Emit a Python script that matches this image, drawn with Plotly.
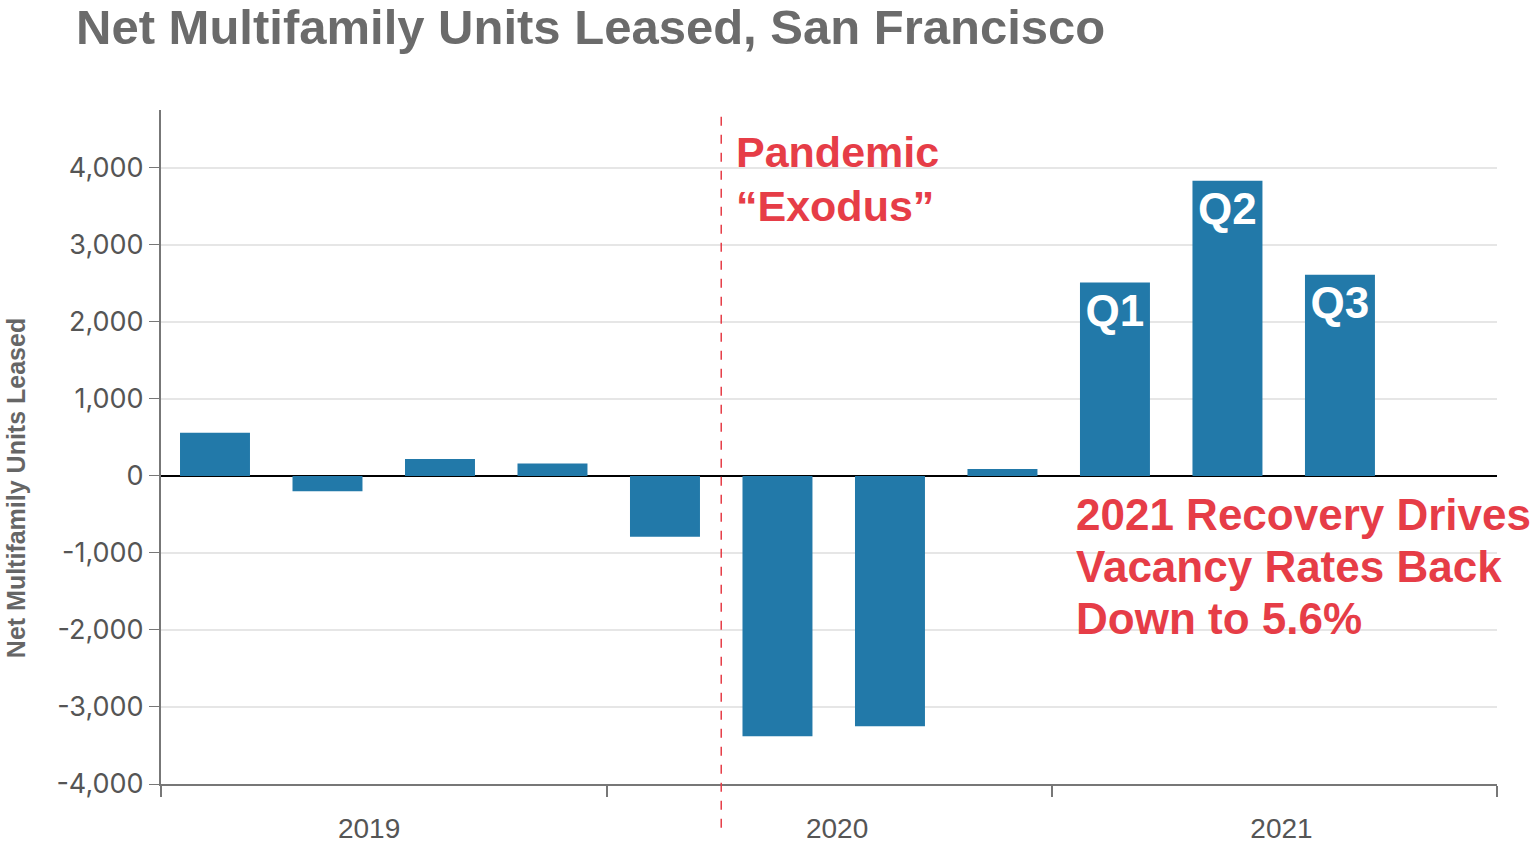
import plotly.graph_objects as go

quarters = ["2019 Q1", "2019 Q2", "2019 Q3", "2019 Q4",
            "2020 Q1", "2020 Q2", "2020 Q3", "2020 Q4",
            "2021 Q1", "2021 Q2", "2021 Q3", "2021 Q4"]
units_leased = [560, -200, 220, 160, -790, -3380, -3250, 90, 2510, 3830, 2610, None]
bar_labels = ["", "", "", "", "", "", "", "", "Q1", "Q2", "Q3", ""]
year_labels = ["2019", "2020", "2021"]
y_ticks = [-4000, -3000, -2000, -1000, 0, 1000, 2000, 3000, 4000]
y_tick_text = ["-4,000", "-3,000", "-2,000", "-1,000", "0", "1,000", "2,000", "3,000", "4,000"]
pandemic_lines = ["Pandemic", "“Exodus”"]
recovery_lines = ["2021 Recovery Drives", "Vacancy Rates Back", "Down to 5.6%"]

# axis layout (in quarter-index units)
x_range = [-0.48, 11.396]
year_bounds = [-0.48, 3.484, 7.44, 11.396]
year_label_pos = [1.37, 5.53, 9.48]

x_pos = list(range(len(quarters)))
BLUE = "#2279a9"
RED = "#e63d47"
GREY = "#666666"

fig = go.Figure()
fig.add_trace(go.Bar(
    x=x_pos, y=units_leased, width=0.622,
    marker=dict(color=BLUE, line=dict(width=0)),
    text=bar_labels, textposition="inside", insidetextanchor="end",
    textfont=dict(family="Liberation Sans", size=44, color="white", weight="bold"),
    textangle=0, cliponaxis=False, hoverinfo="skip", showlegend=False,
))

fig.update_layout(
    width=1530, height=860,
    margin=dict(l=161, r=33, t=110, b=76),
    plot_bgcolor="white", paper_bgcolor="white",
    title=dict(text="<b>Net Multifamily Units Leased, San Francisco</b>",
               x=0.0497, xanchor="left", y=0.9686, yanchor="middle",
               font=dict(family="Liberation Sans", size=49, color="#6b6b6b")),
    xaxis=dict(range=x_range, tickmode="array",
               tickvals=year_label_pos, ticktext=year_labels,
               ticks="outside", ticklen=18, tickcolor="rgba(0,0,0,0)",
               tickfont=dict(family="Liberation Sans", size=28, color="#555555"),
               showline=True, linecolor="#777777", linewidth=2,
               showgrid=False, zeroline=False,
               minor=dict(tickmode="array", tickvals=year_bounds,
                          ticks="outside", ticklen=11, tickcolor="#777777",
                          tickwidth=1.5, showgrid=False)),
    yaxis=dict(range=[-4000, 4750], tickmode="array", tickvals=y_ticks,
               ticktext=y_tick_text, ticks="outside", ticklen=10, tickcolor="#777777",
               tickfont=dict(family="Inter", size=27, color="#555555"),
               showline=True, linecolor="#777777", linewidth=2,
               showgrid=True, gridcolor="#e6e6e6", gridwidth=1.5,
               zeroline=True, zerolinecolor="black", zerolinewidth=2),
    font=dict(family="Liberation Sans"),
)

# y axis title as annotation (offset below center like the reference)
fig.add_annotation(text="<b>Net Multifamily Units Leased</b>", textangle=-90,
                   xref="paper", yref="paper", x=-0.1085, y=0.439,
                   xanchor="center", yanchor="middle", showarrow=False,
                   font=dict(family="Liberation Sans", size=25, color=GREY))

# pandemic marker line
fig.add_shape(type="line", xref="x", yref="paper", x0=4.5, x1=4.5, y0=-0.065, y1=1.0,
              line=dict(color=RED, width=1.5, dash="dash"))

for txt, yv in zip(pandemic_lines, [4200, 3500]):
    fig.add_annotation(text="<b>" + txt + "</b>", xref="x", yref="y",
                       x=4.613, y=yv, xanchor="left", yanchor="middle", align="left",
                       showarrow=False,
                       font=dict(family="Liberation Sans", size=43, color=RED))

for txt, yv in zip(recovery_lines, [-505, -1180, -1855]):
    fig.add_annotation(text="<b>" + txt + "</b>", xref="x", yref="y",
                       x=7.636, y=yv, xanchor="left", yanchor="middle", align="left",
                       showarrow=False,
                       font=dict(family="Liberation Sans", size=44, color=RED))

# remove the default page margin so the figure sits at the window's corner
fig.write_html("out.html", config={"displayModeBar": False},
               post_script="document.body.style.margin='0';")
